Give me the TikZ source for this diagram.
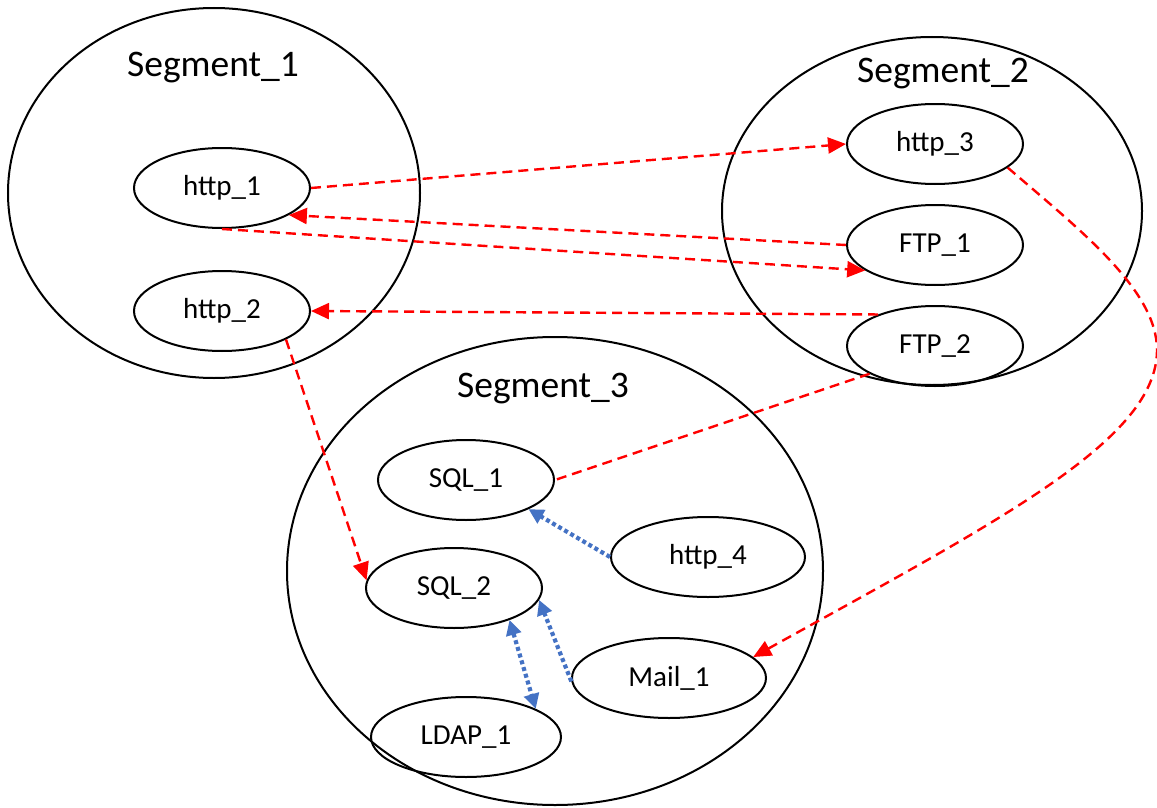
\documentclass[tikz,border=0pt]{standalone}
\usepackage{fontspec}
\setmainfont{Carlito}
\usetikzlibrary{shapes.geometric,arrows.meta}
\definecolor{redcol}{HTML}{FF0000}
\definecolor{bluecol}{HTML}{4472C4}
\tikzset{
  seg/.style={ellipse, draw, line width=2pt, inner sep=0pt},
  svc/.style={ellipse, draw, line width=2pt, inner sep=0pt, minimum width=176pt, minimum height=80pt, font=\fontsize{29}{32}\selectfont},
  svcw/.style={svc, minimum width=194pt},
  seglabel/.style={font=\fontsize{37.5}{42}\selectfont, inner sep=0pt},
  redarrow/.style={draw=redcol, line width=2.4pt, dash pattern=on 10pt off 6pt, -{Triangle[length=18pt,width=16pt]}},
  redplain/.style={draw=redcol, line width=2.4pt, dash pattern=on 10pt off 6pt},
  bluearrow/.style={draw=bluecol, line width=4.2pt, dash pattern=on 4pt off 3pt, -{Triangle[length=15pt,width=15pt]}},
  bluedouble/.style={draw=bluecol, line width=4.2pt, dash pattern=on 4pt off 3pt, {Triangle[length=15pt,width=15pt]}-{Triangle[length=15pt,width=15pt]}},
}
\begin{document}
\begin{tikzpicture}[x=1pt,y=-1pt]
\useasboundingbox (0,0) rectangle (1157,808);
% segments
\node[seg, minimum width=412pt, minimum height=370pt] (seg1) at (214,193) {};
\node[seg, minimum width=420pt, minimum height=348pt] (seg2) at (932,211) {};
\node[seg, minimum width=536pt, minimum height=468pt] (seg3) at (555,571) {};
\node[seglabel] (seg1l) at (213,68) {Segment\_1};
\node[seglabel] (seg2l) at (943,74) {Segment\_2};
\node[seglabel] (seg3l) at (543,389) {Segment\_3};
% services
\node[svc] (http1) at (222,188) {http\_1};
\node[svc] (http2) at (222,311) {http\_2};
\node[svc] (http3) at (935,144) {http\_3};
\node[svc] (ftp1) at (935,245) {FTP\_1};
\node[svc] (ftp2) at (935,346) {FTP\_2};
\node[svc] (sql1) at (466,480) {SQL\_1};
\node[svcw] (http4) at (708,557) {http\_4};
\node[svc] (sql2) at (454,588) {SQL\_2};
\node[svcw] (mail1) at (669,678) {Mail\_1};
\node[svc, minimum width=190pt] (ldap1) at (466,737) {LDAP\_1};
% red connectors
\draw[redarrow] (http1.east) -- (http3.west);
\draw[redarrow] (ftp1.west) -- (http1.-22);
\draw[redarrow] (http1.south) -- (ftp1.200);
\draw[redarrow] (ftp2.151) -- (http2.east);
\draw[redarrow] (http2.-24) -- (sql2.175);
\draw[redplain] (ftp2.203) -- (sql1.east);
\coordinate (bend) at (1157,350);
\draw[redarrow] (http3.-18) .. controls (1080,230) and (1157,290) .. (bend) .. controls (1157,440) and (1000,520) .. (mail1.14);
% blue connectors
\draw[bluearrow] (http4.west) -- (sql1.-25);
\draw[bluearrow] (mail1.182) -- (sql2.-8);
\draw[bluedouble] (sql2.-30) -- (ldap1.22);
\end{tikzpicture}
\end{document}
